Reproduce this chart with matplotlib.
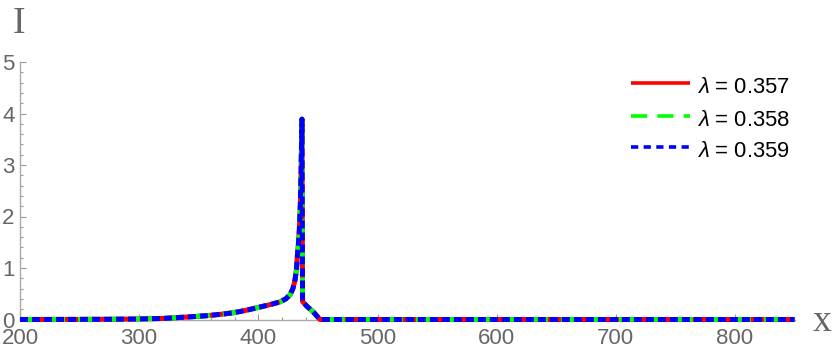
import matplotlib
matplotlib.use("Agg")
import matplotlib.pyplot as plt
from matplotlib.lines import Line2D
from matplotlib.ticker import MultipleLocator

plt.rcParams['font.family'] = ['Liberation Sans', 'DejaVu Sans']
plt.rcParams['mathtext.fontset'] = 'custom'
plt.rcParams['mathtext.it'] = 'Liberation Sans:italic'
plt.rcParams['mathtext.rm'] = 'Liberation Sans'

# ---- data ----
x_vals = [200, 250, 280, 300, 320, 334, 345, 357, 368, 379, 390, 401, 410, 418,
          423, 426.6, 429, 430.8, 432, 432.7, 433.6, 434.4, 435.2, 435.9, 436.6,
          437.1, 440.6, 446, 451.7, 500, 600, 700, 800, 850]
I_0357 = [0.0, 0.002, 0.005, 0.01, 0.02, 0.04, 0.055, 0.075, 0.1, 0.13, 0.18, 0.24, 0.29, 0.34,
          0.4, 0.48, 0.6, 0.77, 0.98, 1.22, 1.45, 1.74, 2.2, 2.9, 3.89,
          0.35, 0.26, 0.15, 0.0, 0.0, 0.0, 0.0, 0.0, 0.0]
I_0358 = [0.0, 0.002, 0.005, 0.01, 0.02, 0.04, 0.055, 0.075, 0.1, 0.13, 0.18, 0.24, 0.29, 0.34,
          0.4, 0.48, 0.6, 0.77, 0.98, 1.22, 1.45, 1.74, 2.2, 2.9, 3.89,
          0.35, 0.26, 0.15, 0.0, 0.0, 0.0, 0.0, 0.0, 0.0]
I_0359 = [0.0, 0.002, 0.005, 0.01, 0.02, 0.04, 0.055, 0.075, 0.1, 0.13, 0.18, 0.24, 0.29, 0.34,
          0.4, 0.48, 0.6, 0.77, 0.98, 1.22, 1.45, 1.74, 2.2, 2.9, 3.89,
          0.35, 0.26, 0.15, 0.0, 0.0, 0.0, 0.0, 0.0, 0.0]
labels = [r'$\lambda$ = 0.357', r'$\lambda$ = 0.358', r'$\lambda$ = 0.359']
x_ticks = [200, 300, 400, 500, 600, 700, 800]
y_ticks = [0, 1, 2, 3, 4, 5]

W, H = 835, 356
fig = plt.figure(figsize=(W / 100, H / 100), dpi=100)
ax = fig.add_axes([20 / W, (H - 319.5) / H, 774.6 / W, 257.5 / H])

gray = '#666666'
tick_gray = '#999999'
lw = 3.6
colors = [(1, 0, 0), (0, 1, 0), (0, 0, 1)]
styles = ['-', (0, (3.2, 2.6)), (0, (1.6, 0.8))]

for i, (ys, c, st) in enumerate(zip([I_0357, I_0358, I_0359], colors, styles)):
    ax.plot(x_vals, ys, color=c, lw=lw, linestyle=st, solid_capstyle='butt',
            dash_capstyle='butt', clip_on=False, zorder=3 + i)

ax.set_xlim(200, 850)
ax.set_ylim(0, 5)
ax.set_xticks(x_ticks)
ax.set_yticks(y_ticks)
ax.xaxis.set_minor_locator(MultipleLocator(20))
ax.yaxis.set_minor_locator(MultipleLocator(0.2))

for s in ['top', 'right']:
    ax.spines[s].set_visible(False)
for s in ['left', 'bottom']:
    ax.spines[s].set_color('#aaaaaa')
    ax.spines[s].set_linewidth(1.0)

ax.tick_params(axis='both', which='major', direction='in', length=4.5, width=0.8,
               color=tick_gray, labelcolor=gray, labelsize=16)
ax.tick_params(axis='both', which='minor', direction='in', length=2.5, width=0.8, color=tick_gray)
ax.tick_params(axis='x', which='major', pad=5.8)
ax.tick_params(axis='y', which='major', pad=4)

# legend drawn manually (positions in pixels from top-left)
leg_line_y = [83.3, 115.7, 146.7]
leg_styles = ['-', (0, (4.5, 2.8)), (0, (2.0, 1.5))]
for yy, c, st, lab in zip(leg_line_y, colors, leg_styles, labels):
    fig.add_artist(Line2D([631 / W, 690 / W], [1 - yy / H, 1 - yy / H], color=c, lw=2.6,
                          linestyle=st, dash_capstyle='butt', solid_capstyle='butt',
                          transform=fig.transFigure))
    fig.text(697 / W, 1 - (yy + 10) / H, lab, fontsize=15.8, color='black',
             ha='left', va='baseline')

fig.text(19 / W, 1 - 24 / H, 'I', family='Liberation Serif', fontsize=27, color=gray,
         ha='center', va='center')
fig.text(822 / W, 1 - 322 / H, 'x', family='Liberation Serif', fontsize=27, color=gray,
         ha='center', va='center')

fig.savefig('out.png', dpi=100)
